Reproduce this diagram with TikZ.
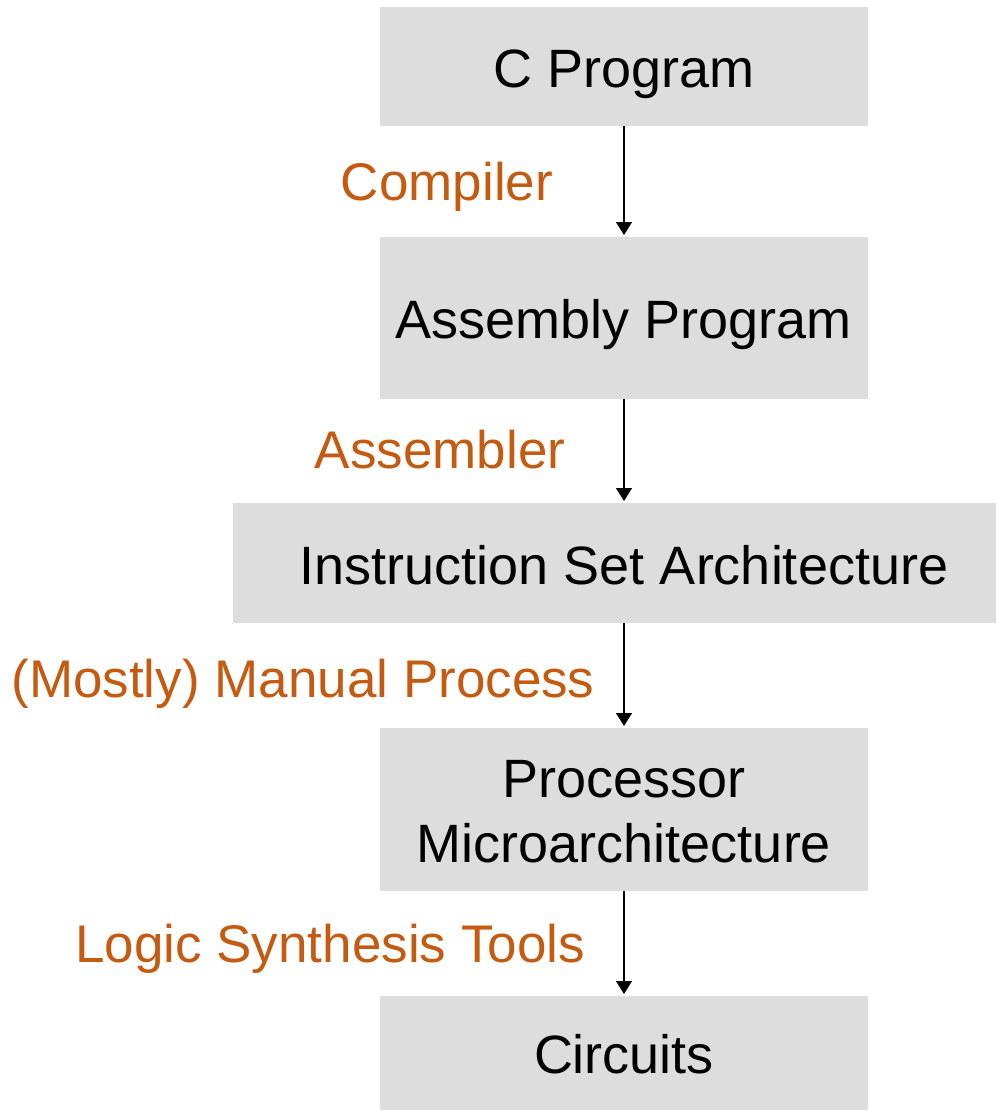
\documentclass[tikz,border=0pt]{standalone}
\usepackage{fontspec}
\setmainfont{Liberation Sans}
\usetikzlibrary{arrows.meta}
\definecolor{boxgray}{HTML}{DDDDDD}
\definecolor{orng}{HTML}{C55A11}
\tikzset{
  box/.style={fill=boxgray, draw=none, inner sep=0pt, outer sep=0pt},
  txt/.style={inner sep=0pt, anchor=base, text=black, font=\fontsize{54}{64.8}\selectfont},
  lbl/.style={inner sep=0pt, anchor=base, text=orng, font=\fontsize{53}{63.6}\selectfont},
  arr/.style={draw=black, line width=1.1pt, -{Triangle[width=16pt,length=13pt]}, shorten >=2pt}
}
\begin{document}
\begin{tikzpicture}[x=1pt,y=1pt]
\useasboundingbox (0,0) rectangle (996,-1111);
% boxes
\node[box, minimum width=488pt, minimum height=119pt] (cprog) at (624,-66.5) {};
\node[box, minimum width=488pt, minimum height=162pt] (asm) at (624,-318) {};
\node[box, minimum width=763pt, minimum height=120pt] (isa) at (614.5,-563) {};
\node[box, minimum width=488pt, minimum height=163pt] (micro) at (624,-809.5) {};
\node[box, minimum width=488pt, minimum height=114pt] (circ) at (624,-1053) {};
% box texts
\node[txt] (t1) at (624,-87) {C Program};
\node[txt] (t2) at (624,-338) {Assembly Program};
\node[txt] (t3) at (624,-584) {Instruction Set Architecture};
\node[txt] (t4a) at (624,-797) {Processor};
\node[txt] (t4b) at (624,-862) {Microarchitecture};
\node[txt] (t5) at (624,-1073) {Circuits};
% labels
\node[lbl] (l1) at (447,-200) {Compiler};
\node[lbl] (l2) at (440,-468) {Assembler};
\node[lbl] (l3) at (303,-697) {(Mostly) Manual Process};
\node[lbl] (l4) at (330,-962) {Logic Synthesis Tools};
% arrows
\draw[arr] (cprog.south) -- (asm.north);
\draw[arr] (asm.south) -- (asm.south |- isa.north);
\draw[arr] (isa.south -| micro.north) -- (micro.north);
\draw[arr] (micro.south) -- (circ.north);
\end{tikzpicture}
\end{document}
